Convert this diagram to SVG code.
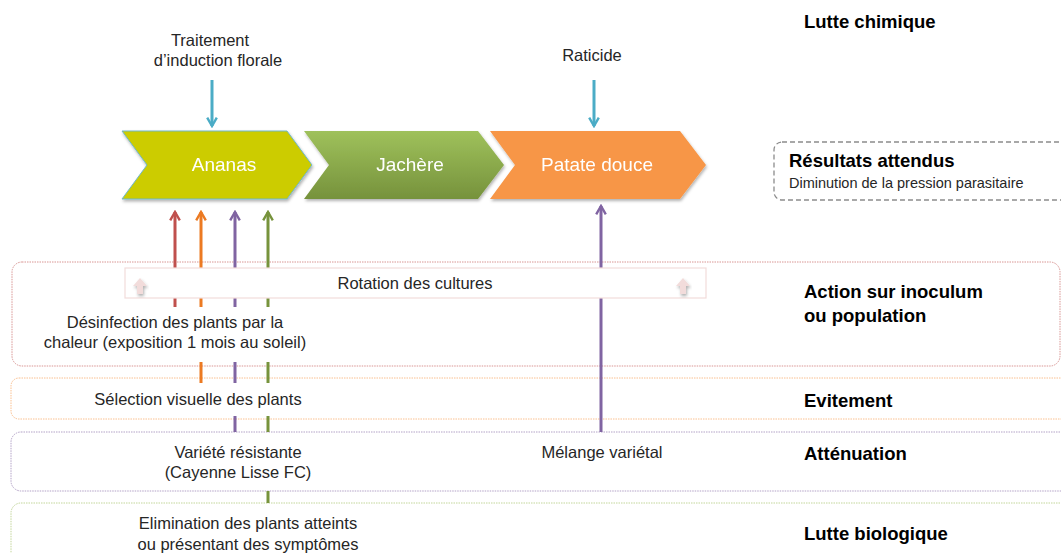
<svg xmlns="http://www.w3.org/2000/svg" width="1061" height="553" viewBox="0 0 1061 553">
<style>
text{font-family:"Liberation Sans",Arial,sans-serif;fill:#262626}
.t{font-size:16.5px;text-anchor:middle}
.b{font-size:18.5px;font-weight:bold;fill:#000}
.cv{font-size:19px;fill:#fff;text-anchor:middle}
.ln{fill:none;stroke-width:3}
.cat{fill:#fff;stroke-width:1;stroke-dasharray:1.5 1}
</style>
<defs>
<linearGradient id="gJ" x1="0" y1="0" x2="0" y2="1"><stop offset="0" stop-color="#9fc15b"/><stop offset="1" stop-color="#76923c"/></linearGradient>
<filter id="sh" x="-10%" y="-10%" width="120%" height="130%"><feDropShadow dx="1" dy="2" stdDeviation="1.5" flood-color="#000" flood-opacity="0.3"/></filter>
<marker id="mB" viewBox="0 0 10 10" refX="8" refY="5" markerWidth="4" markerHeight="4" orient="auto" markerUnits="strokeWidth"><path d="M1,1 L8,5 L1,9" fill="none" stroke="#4bacc6" stroke-width="2"/></marker>
<marker id="mR" viewBox="0 0 10 10" refX="8" refY="5" markerWidth="4" markerHeight="4" orient="auto" markerUnits="strokeWidth"><path d="M1,1 L8,5 L1,9" fill="none" stroke="#c0504d" stroke-width="2"/></marker>
<marker id="mO" viewBox="0 0 10 10" refX="8" refY="5" markerWidth="4" markerHeight="4" orient="auto" markerUnits="strokeWidth"><path d="M1,1 L8,5 L1,9" fill="none" stroke="#ec7a22" stroke-width="2"/></marker>
<marker id="mP" viewBox="0 0 10 10" refX="8" refY="5" markerWidth="4" markerHeight="4" orient="auto" markerUnits="strokeWidth"><path d="M1,1 L8,5 L1,9" fill="none" stroke="#8064a2" stroke-width="2"/></marker>
<marker id="mG" viewBox="0 0 10 10" refX="8" refY="5" markerWidth="4" markerHeight="4" orient="auto" markerUnits="strokeWidth"><path d="M1,1 L8,5 L1,9" fill="none" stroke="#77933c" stroke-width="2"/></marker>
</defs>
<rect width="1061" height="553" fill="#fff"/>

<!-- category boxes -->
<g id="cat-action"><rect class="cat" x="12" y="262" width="1048" height="104" rx="10" stroke="#d99694"/>
<text class="b" x="804" y="298">Action sur inoculum</text><text class="b" x="804" y="322">ou population</text></g>
<g id="cat-evitement"><rect class="cat" x="11" y="378" width="1070" height="41" rx="8" stroke="#fac090"/>
<text class="b" x="804" y="407">Evitement</text></g>
<g id="cat-attenuation"><rect class="cat" x="11" y="432" width="1070" height="59" rx="10" stroke="#b3a2c7"/>
<text class="b" x="804" y="460">Atténuation</text></g>
<g id="cat-lutte-bio"><rect class="cat" x="11" y="503" width="1070" height="70" rx="10" stroke="#c3d69b"/>
<text class="b" x="804" y="540">Lutte biologique</text></g>
<g id="cat-chimique"><text class="b" x="804" y="28">Lutte chimique</text></g>

<g id="resultats"><rect x="774" y="142" width="300" height="58" rx="8" fill="#fff" stroke="#8c8c8c" stroke-width="1.3" stroke-dasharray="5 3"/>
<text class="b" x="789" y="167">Résultats attendus</text>
<text x="789" y="188" style="font-size:14.5px">Diminution de la pression parasitaire</text></g>

<!-- connectors -->
<g id="connectors">
<path class="ln" stroke="#4bacc6" d="M212,80 L212,126" marker-end="url(#mB)"/>
<path class="ln" stroke="#4bacc6" d="M594,80 L594,126" marker-end="url(#mB)"/>
<path class="ln" stroke="#c0504d" d="M175,307 L175,298 M175,268 L175,212" marker-end="url(#mR)"/>
<path class="ln" stroke="#ec7a22" d="M201,383 L201,362 M201,307 L201,298 M201,268 L201,212" marker-end="url(#mO)"/>
<path class="ln" stroke="#8064a2" d="M235,432 L235,416 M235,383 L235,362 M235,307 L235,298 M235,268 L235,212" marker-end="url(#mP)"/>
<path class="ln" stroke="#77933c" d="M268,503 L268,491 M268,432 L268,416 M268,383 L268,362 M268,307 L268,298 M268,268 L268,212" marker-end="url(#mG)"/>
<path class="ln" stroke="#8064a2" d="M601,432 L601,298 M601,268 L601,206" marker-end="url(#mP)"/>
</g>

<!-- chevrons -->
<g id="ananas" filter="url(#sh)"><polygon points="122,131 287,131 312,165 287,199 122,199 147,165" fill="#cccc00" stroke="#6fb7c9" stroke-width="1"/>
<text class="cv" x="224" y="171">Ananas</text></g>
<g id="jachere" filter="url(#sh)"><polygon points="304,131 478,131 504,165 478,199 304,199 329,165" fill="url(#gJ)"/>
<text class="cv" x="410" y="171">Jachère</text></g>
<g id="patate" filter="url(#sh)"><polygon points="490,131 680,131 706,165 680,199 490,199 515,165" fill="#f79646"/>
<text class="cv" x="597" y="171">Patate douce</text></g>

<!-- top labels -->
<g id="traitement"><text class="t" x="210" y="46">Traitement</text><text class="t" x="218" y="66">d’induction florale</text></g>
<g id="raticide"><text class="t" x="592" y="61">Raticide</text></g>

<!-- rotation -->
<g id="rotation"><rect x="125" y="268" width="581" height="30" fill="#fff" stroke="#f2dcdb" stroke-width="1.2"/>
<path d="M133,286 L140,278 L147,286 L143,286 L143,294 L137,294 L137,286 Z" fill="#f2dcdb" filter="url(#sh)"/>
<path d="M676,286 L683,278 L690,286 L686,286 L686,294 L680,294 L680,286 Z" fill="#f2dcdb" filter="url(#sh)"/>
<text class="t" x="415" y="289">Rotation des cultures</text></g>

<g id="desinfection"><text class="t" x="175" y="328">Désinfection des plants par la</text><text class="t" x="175" y="348">chaleur (exposition 1 mois au soleil)</text></g>
<g id="selection"><text class="t" x="198" y="405">Sélection visuelle des plants</text></g>
<g id="variete"><text class="t" x="238" y="458">Variété résistante</text><text class="t" x="238" y="478">(Cayenne Lisse FC)</text></g>
<g id="melange"><text class="t" x="602" y="458">Mélange variétal</text></g>
<g id="elimination"><text class="t" x="248" y="529">Elimination des plants atteints</text><text class="t" x="248" y="550">ou présentant des symptômes</text></g>
</svg>
